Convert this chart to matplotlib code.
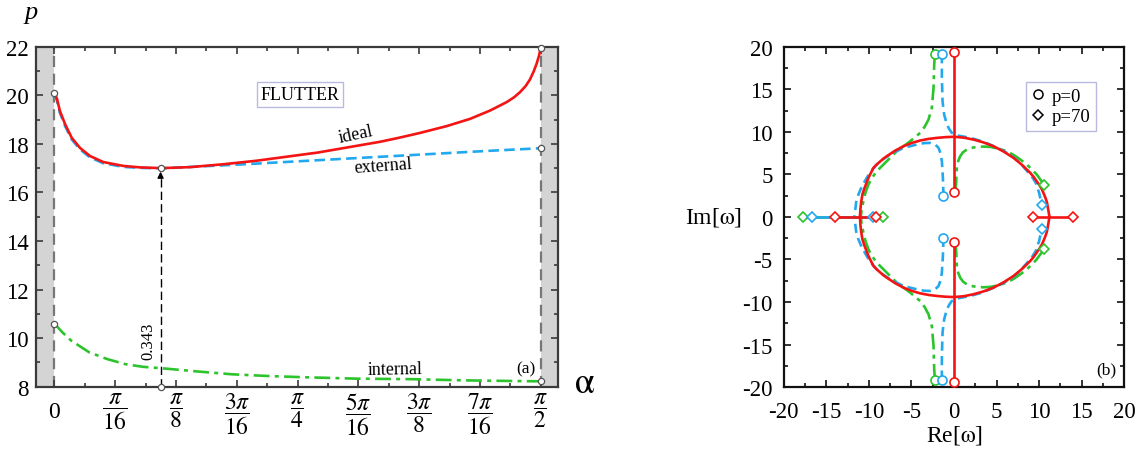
import numpy as np
import matplotlib.pyplot as plt

plt.rcParams['font.family'] = 'serif'
plt.rcParams['font.serif'] = ['Liberation Serif', 'DejaVu Serif']
plt.rcParams['mathtext.fontset'] = 'stix'
plt.rcParams['axes.unicode_minus'] = False

PI = np.pi

# ---- panel (a): critical load p versus angle alpha ----
alpha_ideal = [0.0, 0.008, 0.018, 0.035, 0.056, 0.083, 0.115, 0.158, 0.223, 0.277,
               0.345, 0.438, 0.546, 0.65, 0.75, 0.85, 0.95, 1.05, 1.106, 1.181,
               1.267, 1.343, 1.407, 1.461, 1.485, 1.504, 1.522, 1.536, 1.548, 1.558, 1.565, PI / 2]
p_ideal = [20.1, 19.87, 19.35, 18.8, 18.25, 17.83, 17.5, 17.25, 17.09, 17.03,
           17.0, 17.04, 17.16, 17.3, 17.47, 17.64, 17.86, 18.08, 18.23, 18.45,
           18.73, 19.03, 19.37, 19.72, 19.92, 20.13, 20.38, 20.65, 20.98, 21.32, 21.62, 21.95]

alpha_ext = [0.0, 0.008, 0.018, 0.035, 0.056, 0.083, 0.115, 0.158, 0.223, 0.277,
             0.345, 0.6, 0.8, 1.0, 1.2, 1.4, PI / 2]
p_ext = [20.05, 19.8, 19.27, 18.72, 18.18, 17.77, 17.44, 17.2, 17.05, 17.01,
         16.99, 17.15, 17.29, 17.43, 17.57, 17.71, 17.82]

alpha_int = [0.0, 0.025, 0.054, 0.112, 0.170, 0.228, 0.285, 0.346, 0.459, 0.574,
             0.690, 0.805, 0.978, 1.152, 1.325, PI / 2]
p_int = [10.6, 10.25, 9.9, 9.42, 9.14, 8.93, 8.82, 8.76, 8.63, 8.51,
         8.44, 8.39, 8.33, 8.31, 8.26, 8.22]

# marked end points
pts_alpha = [0.0, 0.343, PI / 2, PI / 2, 0.0, PI / 2, 0.343]
pts_p = [20.1, 17.0, 21.95, 17.82, 10.6, 8.22, 8.0]
alpha_min = 0.343

xtick_vals = [0, PI / 16, PI / 8, 3 * PI / 16, PI / 4, 5 * PI / 16, 3 * PI / 8, 7 * PI / 16, PI / 2]
xtick_labels = ['0', r'$\dfrac{\pi}{16}$', r'$\dfrac{\pi}{8}$', r'$\dfrac{3\pi}{16}$', r'$\dfrac{\pi}{4}$',
                r'$\dfrac{5\pi}{16}$', r'$\dfrac{3\pi}{8}$', r'$\dfrac{7\pi}{16}$', r'$\dfrac{\pi}{2}$']

# ---- panel (b): eigenvalue trajectories (upper half, mirrored) ----
red_loop_x = [-11.05, -11.0, -10.9, -10.76, -10.55, -10.3, -10.05, -9.75, -9.46, -9.1, -8.7, -8.3,
              -7.9, -6.9, -5.94, -4.95, -3.98, -3.0, -2.02, -1.0, 0.0, 1.15, 2.29, 3.45, 4.64,
              5.8, 6.99, 8.0, 8.95, 9.35, 9.7, 10.05, 10.32, 10.55, 10.75, 10.9, 10.99, 11.1, 11.2]
red_loop_y = [0.0, 0.9, 1.8, 2.64, 3.3, 3.95, 4.6, 5.2, 5.77, 6.15, 6.5, 6.85,
              7.14, 7.8, 8.31, 8.7, 8.98, 9.17, 9.29, 9.38, 9.42, 9.32, 9.09, 8.76, 8.31,
              7.7, 6.94, 6.1, 5.18, 4.7, 4.2, 3.7, 3.23, 2.7, 2.2, 1.75, 1.27, 0.65, 0.0]
red_vert_y = [2.9, 19.4]
red_left_x = [-14.0, -9.2]
red_right_x = [9.32, 14.0]

blue_top_x = [-1.43, -1.43, -1.35, -1.16, -0.84, -0.55, -0.26, 0.1, 0.53, 1.2, 1.9, 3.1, 4.25,
              5.45, 6.6, 7.6, 8.4, 9.1, 9.6, 10.0, 10.29]
blue_top_y = [19.14, 16.33, 13.59, 12.03, 10.85, 10.3, 9.88, 9.68, 9.55, 9.43, 9.29, 8.95, 8.5,
              7.95, 7.3, 6.5, 5.6, 4.8, 4.0, 2.8, 1.41]
blue_in_x = [-1.24, -1.31, -1.43, -1.6, -1.82, -2.2, -2.8, -3.5, -4.37, -5.94, -7.5, -8.3, -9.07,
             -9.7, -10.25, -10.8, -11.23, -11.5, -11.62, -11.72]
blue_in_y = [2.45, 4.6, 6.55, 7.5, 8.12, 8.5, 8.7, 8.68, 8.51, 8.12, 7.33, 6.8, 6.16,
             5.45, 4.6, 3.65, 2.64, 1.7, 0.69, 0.0]
blue_axis_x = [-16.63, -9.5]

green_top_x = [-2.25, -2.33, -2.41, -2.61, -3.0, -3.45, -3.98, -5.15, -6.72, -7.9, -9.07,
               -9.6, -10.05, -10.4, -10.64, -10.85, -10.95]
green_top_y = [19.14, 17.89, 15.15, 12.81, 11.44, 10.6, 9.88, 8.9, 7.73, 6.55, 5.38,
               4.65, 3.82, 2.85, 1.86, 0.9, 0.0]
green_in_x = [0.05, 0.2, 0.25, 0.33, 0.5, 0.72, 1.05, 1.5, 2.05, 2.68, 3.45, 4.25, 5.25, 6.21,
              7.0, 7.78, 8.5, 9.15, 9.7, 10.13, 10.6]
green_in_y = [2.9, 3.5, 4.01, 5.96, 6.6, 7.14, 7.6, 7.92, 8.12, 8.23, 8.27, 8.23, 8.02, 7.72,
              7.28, 6.75, 6.2, 5.57, 5.0, 4.4, 3.78]
green_axis_x = [-17.7, -8.4]

RED = '#f41414'
BLUE = '#22a8ee'
GREEN = '#2cc42c'

fig = plt.figure(figsize=(11.46, 4.56), dpi=100)
ax1 = fig.add_axes([0.0312, 0.1498, 0.456, 0.7456])
ax2 = fig.add_axes([0.6839, 0.149, 0.2972, 0.7462])

xl, xr = -0.0601, 1.6276
ax1.axvspan(xl, 0, color='#d4d4d4', lw=0, zorder=0)
ax1.axvspan(PI / 2, xr, color='#d4d4d4', lw=0, zorder=0)
ax1.axvline(0, color='#777777', ls=(0, (5, 3)), lw=1.6, zorder=1)
ax1.axvline(PI / 2, color='#777777', ls=(0, (5, 3)), lw=1.6, zorder=1)

ax1.plot(alpha_int, p_int, color=GREEN, ls=(0, (6, 2, 1.5, 2)), lw=1.9, zorder=3)
ax1.plot(alpha_ext, p_ext, color=BLUE, ls=(0, (4, 2)), lw=1.9, zorder=3)
ax1.plot(alpha_ideal, p_ideal, color=RED, lw=1.9, zorder=4)

ax1.plot([alpha_min, alpha_min], [8.0, 16.6], color='k', ls=(0, (6, 3)), lw=1.0, zorder=4)
ax1.annotate('', xy=(alpha_min, 16.97), xytext=(alpha_min, 16.5),
             arrowprops=dict(arrowstyle='-|>', color='k', lw=1.0, mutation_scale=9), zorder=5)
ax1.plot(pts_alpha, pts_p, ls='none', marker='o', ms=4.5, mfc='white', mec='#555555',
         mew=0.9, zorder=6, clip_on=False)

ax1.text(0.793, 20.03, 'FLUTTER', fontsize=13, ha='center', va='center',
         bbox=dict(boxstyle='square,pad=0.2', fc='white', ec='#b8b8e0', lw=1.0))
ax1.text(0.975, 18.4, 'ideal', fontsize=13, ha='center', va='center', rotation=12)
ax1.text(1.06, 17.12, 'external', fontsize=13, ha='center', va='center', rotation=4)
ax1.text(1.10, 8.74, 'internal', fontsize=13, ha='center', va='center', rotation=1)
ax1.text(1.523, 8.74, '(a)', fontsize=12.5, ha='center', va='center')
ax1.text(0.305, 9.9, '0.343', fontsize=12, ha='center', va='center', rotation=90)

ax1.set_xlim(xl, xr)
ax1.set_ylim(8, 22)
ax1.set_xticks(xtick_vals)
ax1.set_xticklabels([''] + xtick_labels[1:], fontsize=17)
ax1.text(xtick_vals[0], -0.074, xtick_labels[0], fontsize=17, ha='center', va='center',
         transform=ax1.get_xaxis_transform())
ax1.set_xticks(np.arange(0, PI / 2 + 0.01, PI / 32), minor=True)
ax1.set_yticks(np.arange(8, 23, 2))
ax1.set_yticks(np.arange(8, 23, 1), minor=True)
ax1.tick_params(axis='y', labelsize=16.5, pad=5)
ax1.tick_params(axis='x', pad=3)
ax1.text(-0.008, 1.103, 'p', fontsize=19, style='italic', ha='center', va='center',
         transform=ax1.transAxes)
ax1.text(1.05, 0.01, r'$\mathrm{\alpha}$', fontsize=26, ha='center', va='center',
         transform=ax1.transAxes)

# panel (b)
for sgn in (1, -1):
    ax2.plot(green_top_x, [sgn * v for v in green_top_y], color=GREEN, ls=(0, (6, 2, 1.5, 2)), lw=1.9, zorder=3)
    ax2.plot(green_in_x, [sgn * v for v in green_in_y], color=GREEN, ls=(0, (6, 2, 1.5, 2)), lw=1.9, zorder=3)
    ax2.plot(blue_top_x, [sgn * v for v in blue_top_y], color=BLUE, ls=(0, (3.5, 2)), lw=1.9, zorder=3)
    ax2.plot(blue_in_x, [sgn * v for v in blue_in_y], color=BLUE, ls=(0, (3.5, 2)), lw=1.9, zorder=3)
    ax2.plot(red_loop_x, [sgn * v for v in red_loop_y], color=RED, lw=1.9, zorder=4)
    ax2.plot([0, 0], [sgn * v for v in red_vert_y], color=RED, lw=1.9, zorder=4)
ax2.plot(green_axis_x, [0, 0], color=GREEN, lw=1.9, zorder=3)
ax2.plot(blue_axis_x, [0, 0], color=BLUE, lw=1.9, zorder=3)
ax2.plot(red_left_x, [0, 0], color=RED, lw=1.9, zorder=4)
ax2.plot(red_right_x, [0, 0], color=RED, lw=1.9, zorder=4)

mk = dict(ls='none', mfc='white', mew=1.2, zorder=6)
for sgn in (1, -1):
    # p = 0 start points
    ax2.plot(green_top_x[0], sgn * green_top_y[0], marker='o', ms=6.5, mec=GREEN, **mk)
    ax2.plot(blue_top_x[0], sgn * blue_top_y[0], marker='o', ms=6.5, mec=BLUE, **mk)
    ax2.plot(blue_in_x[0], sgn * blue_in_y[0], marker='o', ms=6.5, mec=BLUE, **mk)
    ax2.plot(0, sgn * red_vert_y[1], marker='o', ms=6.5, mec=RED, **mk)
    ax2.plot(0, sgn * red_vert_y[0], marker='o', ms=6.5, mec=RED, **mk)
    # p = 70 end points off the axis
    ax2.plot(blue_top_x[-1], sgn * blue_top_y[-1], marker='D', ms=5, mec=BLUE, **mk)
    ax2.plot(green_in_x[-1], sgn * green_in_y[-1], marker='D', ms=5, mec=GREEN, **mk)
for xv in green_axis_x:
    ax2.plot(xv, 0, marker='D', ms=5, mec=GREEN, **mk)
for xv in blue_axis_x:
    ax2.plot(xv, 0, marker='D', ms=5, mec=BLUE, **mk)
for xv in red_left_x + red_right_x:
    ax2.plot(xv, 0, marker='D', ms=5, mec=RED, **mk)

h1, = ax2.plot([], [], ls='none', marker='o', ms=6.5, mfc='white', mec='k', mew=1.1, label='p=0')
h2, = ax2.plot([], [], ls='none', marker='D', ms=5, mfc='white', mec='k', mew=1.1, label='p=70')
leg = ax2.legend(handles=[h1, h2], loc='upper right', bbox_to_anchor=(0.918, 0.897), fontsize=13.5,
                 fancybox=False, framealpha=1, edgecolor='#b8b8e0', handlelength=0.7,
                 handletextpad=0.4, borderpad=0.3, labelspacing=0.2, borderaxespad=0)
leg.get_frame().set_linewidth(1.0)
ax2.text(0.948, 0.052, '(b)', fontsize=12.5, ha='center', va='center', transform=ax2.transAxes)

ax2.set_xlim(-20, 20)
ax2.set_ylim(-20, 20)
ax2.set_xticks(np.arange(-20, 21, 5))
ax2.set_xticks(np.arange(-20, 21, 2.5), minor=True)
ax2.set_yticks(np.arange(-20, 21, 5))
ax2.set_yticks(np.arange(-20, 21, 2.5), minor=True)
ax2.tick_params(labelsize=16.5)
ax2.tick_params(axis='x', pad=10)
ax2.tick_params(axis='y', pad=8)
ax2.text(0.5, -0.138, r'Re[$\mathrm{\omega}$]', fontsize=17, ha='center', va='center',
         transform=ax2.transAxes)
ax2.text(-0.205, 0.5, r'Im[$\mathrm{\omega}$]', fontsize=17, ha='center', va='center',
         transform=ax2.transAxes)

for ax, col in ((ax1, '#3a3a3a'), (ax2, '#111111')):
    for s in ax.spines.values():
        s.set_color(col)
        s.set_linewidth(1.6)
    ax.tick_params(which='both', direction='in', top=True, right=True, color=col, width=1.2)
    ax.tick_params(which='major', length=5)
    ax.tick_params(which='minor', length=3)

fig.savefig('out.png', dpi=100)
